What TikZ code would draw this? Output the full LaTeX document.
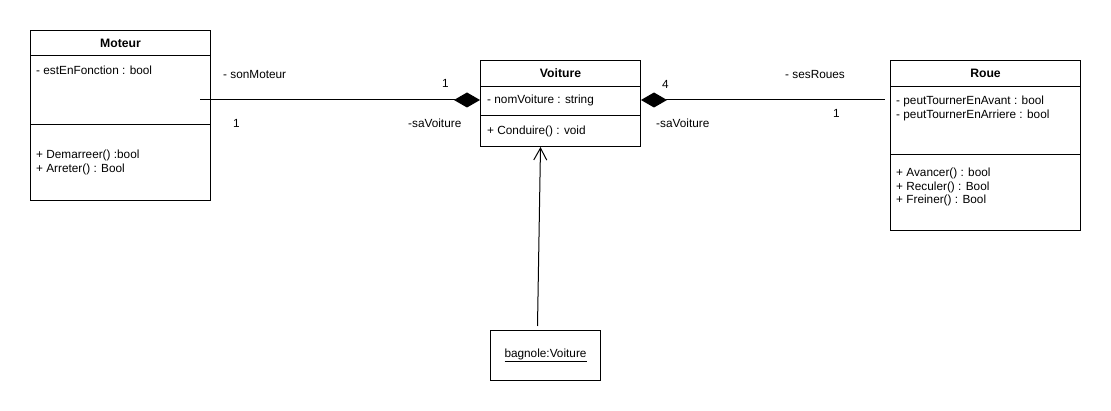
\documentclass[tikz,border=0pt]{standalone}
\usepackage{fontspec}
\setmainfont{Liberation Sans}
\usetikzlibrary{calc,arrows.meta}

\begin{document}
\begin{tikzpicture}[x=1pt, y=-1pt]
  \tikzstyle{myline}=[line width=1pt, draw=black];
  \tikzstyle{myclass}=[myline, anchor=north west, inner sep=0pt];
  \tikzstyle{mytext}=[inner sep=0pt, align=left, text=black,
    font=\fontsize{11.8}{13.5}\selectfont];
  \tikzstyle{mytitle}=[mytext, anchor=base, font=\fontsize{12.2}{13.5}\selectfont\bfseries];
  \tikzstyle{mycomp}=[myline, {Diamond[length=26pt, width=15pt, fill=black]}-];
  \tikzstyle{myuse}=[myline, -{Straight Barb[length=12pt, width=13pt]}];
  \useasboundingbox (0,0) rectangle (1111,411);
  %
  % class Moteur
  \node[myclass, minimum width=180pt, minimum height=170pt] (moteur) at (30,30) {};
  \node[mytitle] (moteurT) at ($(moteur.north)+(0,18)$) {Moteur};
  \draw[myline] ($(moteur.north west)+(0,26)$) -- ($(moteur.north east)+(0,26)$);
  \draw[myline] ($(moteur.north west)+(0,95)$) -- ($(moteur.north east)+(0,95)$);
  \node[mytext, anchor=base west] (moteurA) at ($(moteur.north west)+(6,45)$)
  {- estEnFonction : bool};
  \node[mytext, anchor=north west] (moteurM) at ($(moteur.north west)+(6,120)$)
  {+ Demarreer() :bool\\+ Arreter() : Bool};
  %
  % class Voiture
  \node[myclass, minimum width=160pt, minimum height=86pt] (voiture) at (480,60) {};
  \node[mytitle] (voitureT) at ($(voiture.north)+(0,18)$) {Voiture};
  \draw[myline] ($(voiture.north west)+(0,27)$) -- ($(voiture.north east)+(0,27)$);
  \draw[myline] ($(voiture.north west)+(0,56)$) -- ($(voiture.north east)+(0,56)$);
  \node[mytext, anchor=base west] (voitureA) at ($(voiture.north west)+(7,44)$)
  {- nomVoiture : string};
  \node[mytext, anchor=base west] (voitureM) at ($(voiture.north west)+(7,75)$)
  {+ Conduire() : void};
  %
  % class Roue
  \node[myclass, minimum width=190pt, minimum height=170pt] (roue) at (890,60) {};
  \node[mytitle] (roueT) at ($(roue.north)+(0,18)$) {Roue};
  \draw[myline] ($(roue.north west)+(0,27)$) -- ($(roue.north east)+(0,27)$);
  \draw[myline] ($(roue.north west)+(0,95)$) -- ($(roue.north east)+(0,95)$);
  \node[mytext, anchor=north west] (roueA) at ($(roue.north west)+(6,36)$)
  {- peutTournerEnAvant : bool\\- peutTournerEnArriere : bool};
  \node[mytext, anchor=north west] (roueM) at ($(roue.north west)+(6,108)$)
  {+ Avancer() : bool\\+ Reculer() : Bool\\+ Freiner() : Bool};
  %
  % object bagnole
  \node[myclass, minimum width=110pt, minimum height=50pt] (bagnole) at (490,330) {};
  \node[mytext] (bagnoleT) at (bagnole.center) {\underline{bagnole:Voiture}};
  %
  % connections
  \coordinate (moteurEnd) at (200,100);
  \coordinate (roueEnd) at (885,100);
  \draw[mycomp] (moteurEnd -| voiture.west) -- (moteurEnd);
  \draw[mycomp] (roueEnd -| voiture.east) -- (roueEnd);
  \draw[myuse] ($(bagnole.north)+(-8,-4)$) -- ($(voiture.south)+(-20,0)$);
  %
  % labels
  \node[mytext, anchor=base west] (sonMoteur) at (223,79) {- sonMoteur};
  \node[mytext, anchor=base west] (multMoteur) at (233,128) {1};
  \node[mytext, anchor=base west] (multVoitureL) at (442,88) {1};
  \node[mytext, anchor=base west] (saVoitureL) at (408,128) {-saVoiture};
  \node[mytext, anchor=base west] (multVoitureR) at (662,89) {4};
  \node[mytext, anchor=base west] (saVoitureR) at (656,128) {-saVoiture};
  \node[mytext, anchor=base west] (sesRoues) at (785,79) {- sesRoues};
  \node[mytext, anchor=base west] (multRoue) at (833,118) {1};
\end{tikzpicture}
\end{document}
